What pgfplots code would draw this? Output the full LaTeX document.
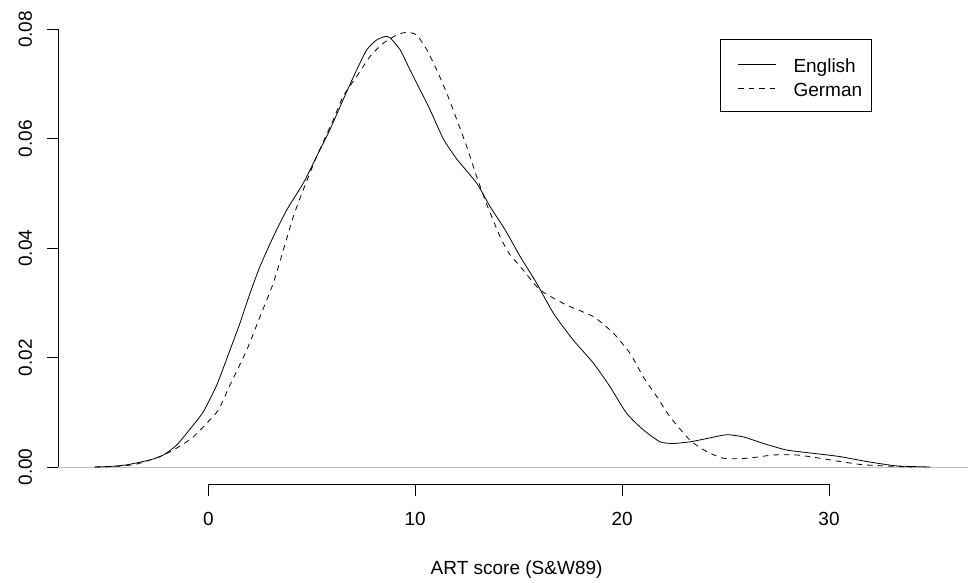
\documentclass[border=0pt]{standalone}
\usepackage{fontspec}
\setmainfont{Liberation Sans}
\usepackage{pgfplots}
\pgfplotsset{compat=1.18}
\definecolor{rgray}{RGB}{190,190,190}
\begin{document}
\fontsize{19}{22}\selectfont
\begin{tikzpicture}
\begin{axis}[
  scale only axis, width=910.2pt, height=469.6pt,
  xmin=-7.24, xmax=36.75, ymin=-0.00311, ymax=0.08276,
  axis lines*=left, axis line style={draw=none},
  tick align=outside, major tick length=11.5pt,
  tick style={black, line width=0.8pt},
  xtick={0,10,20,30}, ytick={0,0.02,0.04,0.06,0.08},
  yticklabels={0.00,0.02,0.04,0.06,0.08},
  scaled y ticks=false,
  /pgf/number format/assume math mode=true,
  xticklabel style={anchor=north, inner sep=0pt, yshift=-16.8pt},
  yticklabel style={rotate=90, anchor=south, inner sep=0pt, yshift=14.7pt},
  xlabel={ART score (S\&W89)},
  xlabel style={at={(rel axis cs:0.5,0)}, anchor=base, inner sep=0pt, yshift=-90.6pt, xshift=3pt},
  legend style={at={(axis cs:24.73,0.07821)}, anchor=north west, draw=black, line width=0.8pt,
    outer sep=0pt, inner xsep=9.7pt, inner ysep=10.8pt, row sep=-2.8pt,
    nodes={inner sep=0pt, text height=22.2pt, text depth=4.6pt},
    cells={anchor=base west},
    /tikz/every odd column/.append style={column sep=16.7pt},
    /tikz/every even column/.append style={column sep=0pt}},
  legend image code/.code={\path (-8.3pt,8.3pt); \draw[#1] (0pt,8.3pt) -- (38pt,8.3pt);},
]
\coordinate (sw) at (rel axis cs:0,0);
\coordinate (ne) at (rel axis cs:1,1);
\addplot[rgray, line width=0.8pt, forget plot] coordinates {(-7.24,0) (36.75,0)};
\addplot[black, line width=0.8pt, smooth, tension=0.35] table {
x y
-5.47 0.0000
-4.75 0.0001
-3.93 0.0004
-2.81 0.0013
-2.17 0.0022
-1.53 0.0040
-0.72 0.0077
-0.24 0.0101
0.41 0.0150
1.05 0.0214
1.53 0.0263
2.02 0.0318
2.50 0.0367
3.14 0.0421
3.79 0.0470
4.59 0.0519
5.24 0.0568
5.88 0.0617
6.52 0.0672
7.17 0.0726
7.66 0.0763
8.14 0.0781
8.54 0.0787
8.78 0.0785
9.27 0.0763
9.75 0.0726
10.23 0.0690
10.72 0.0653
11.36 0.0600
12.01 0.0563
12.97 0.0519
13.62 0.0476
14.34 0.0434
15.07 0.0385
15.87 0.0336
16.68 0.0281
17.64 0.0232
18.61 0.0190
19.41 0.0147
20.22 0.0098
21.02 0.0068
21.83 0.0046
22.47 0.0043
23.28 0.0046
24.09 0.0052
25.05 0.0059
25.86 0.0055
26.83 0.0043
27.95 0.0031
29.24 0.0025
30.53 0.0019
31.82 0.0010
33.27 0.0002
34.88 0.0000
};
\addlegendentry{English}
\addplot[black, line width=0.8pt, dash pattern=on 5.5pt off 5pt, smooth, tension=0.35] table {
x y
-5.50 0.0000
-4.50 0.0001
-3.50 0.0005
-2.33 0.0019
-1.69 0.0031
-1.21 0.0042
-0.72 0.0055
-0.08 0.0080
0.50 0.0105
1.05 0.0150
1.86 0.0214
2.50 0.0275
3.14 0.0336
3.63 0.0397
4.11 0.0458
4.59 0.0507
5.24 0.0568
6.04 0.0635
6.52 0.0678
7.17 0.0714
7.82 0.0751
8.46 0.0775
9.11 0.0790
9.59 0.0795
10.07 0.0790
10.56 0.0763
11.04 0.0726
11.52 0.0684
12.01 0.0635
12.49 0.0586
12.97 0.0531
13.46 0.0480
14.10 0.0421
14.55 0.0390
15.07 0.0367
16.03 0.0324
17.32 0.0296
18.61 0.0275
19.57 0.0245
20.38 0.0208
21.02 0.0165
21.67 0.0129
22.31 0.0092
23.28 0.0049
24.09 0.0028
24.89 0.0016
25.70 0.0015
26.51 0.0018
27.31 0.0022
28.44 0.0022
29.57 0.0016
30.53 0.0010
31.66 0.0004
33.27 0.0001
34.00 0.0000
};
\addlegendentry{German}
\end{axis}
\draw[line width=0.8pt] (sw) ++(7.24*20.69pt,0) -- ++(30*20.69pt,0);
\draw[line width=0.8pt] (sw) ++(0,0.00311*5469pt) -- ++(0,0.08*5469pt);
\pgfresetboundingbox
\path[use as bounding box] ([shift={(-58.5pt,-98.6pt)}]sw) rectangle ([shift={(-0.7pt,14.4pt)}]ne);
\end{tikzpicture}
\end{document}
